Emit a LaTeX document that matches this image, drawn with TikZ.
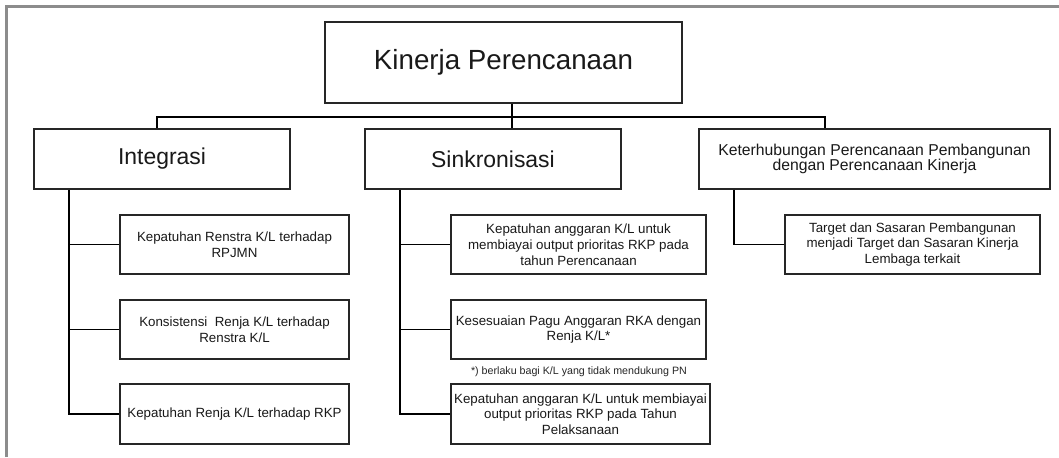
\documentclass[tikz,border=0pt]{standalone}
\usepackage{fontspec}
\setmainfont{Liberation Sans}
\begin{document}
\begin{tikzpicture}[x=0.75pt,y=-0.75pt,
  box/.style={draw=black!85,line width=0.9pt,fill=white,rectangle,inner sep=1pt,
    align=center,text=black!90},
  head/.style={box,font=\fontsize{17.2pt}{20pt}\selectfont,minimum width=192pt,minimum height=45pt},
  leaf/.style={box,font=\fontsize{10pt}{11.8pt}\selectfont,minimum height=44.25pt},
  conn/.style={draw=black,line width=1.3pt},
  frameline/.style={draw=black!45,line width=1.6pt}]
\useasboundingbox (0,0) rectangle (1059,457);
\fill[white] (0,0) rectangle (1059,457);
% outer frame (left and top edges only)
\draw[frameline] (6.5,457) -- (6.5,6.5) -- (1059,6.5);

% root
\node[box,font=\fontsize{20.8pt}{24pt}\selectfont,minimum width=267.75pt,minimum height=60.75pt]
  (root) at (503.5,62.5) {Kinerja Perencanaan};

% second level
\node[head] (integ) at (162,159) {Integrasi};
\node[head] (sink) at (493,159) {Sinkronisasi};
\node[box,font=\fontsize{11.8pt}{11.8pt}\selectfont,minimum width=263.25pt,minimum height=45pt]
  (ket) at (874.5,159) {Keterhubungan Perencanaan Pembangunan\\dengan Perencanaan Kinerja};

% leaves under Integrasi
\node[leaf,minimum width=171.75pt] (i1) at (234.5,244.5) {Kepatuhan Renstra K/L terhadap\\RPJMN};
\node[leaf,minimum width=171.75pt] (i2) at (234.5,329.5) {Konsistensi\ \ Renja K/L terhadap\\Renstra K/L};
\node[leaf,minimum width=171.75pt,minimum height=45pt] (i3) at (234.5,414) {Kepatuhan Renja K/L terhadap RKP};

% leaves under Sinkronisasi
\node[leaf,minimum width=191.25pt] (s1) at (578.5,244.5) {Kepatuhan anggaran K/L untuk\\membiayai output prioritas RKP pada\\tahun Perencanaan};
\node[leaf,minimum width=191.25pt] (s2) at (578.5,329.5) {Kesesuaian Pagu Anggaran RKA dengan\\Renja K/L*};
\node[font=\fontsize{8pt}{9pt}\selectfont,text=black!85,inner sep=0pt] (note) at (579,372) {*) berlaku bagi K/L yang tidak mendukung PN};
\node[leaf,minimum width=194.25pt,minimum height=45pt] (s3) at (580.5,414) {Kepatuhan anggaran K/L untuk membiayai\\output prioritas RKP pada Tahun\\Pelaksanaan};

% leaf under Keterhubungan
\node[leaf,minimum width=191.25pt] (k1) at (912.5,244.5) {Target dan Sasaran Pembangunan\\menjadi Target dan Sasaran Kinerja\\Lembaga terkait};

% connector positions
\coordinate (bus) at (0,117);
\coordinate (idrop) at (157,0);
\coordinate (sdrop) at (512,0);
\coordinate (kdrop) at (825,0);
\coordinate (ispine) at (69,0);
\coordinate (sspine) at (400,0);
\coordinate (kspine) at (734,0);

% root to second level
\draw[conn] (integ.north -| idrop) |- (bus -| kdrop) -- (ket.north -| kdrop);
\draw[conn] (root.south -| sdrop) -- (sink.north -| sdrop);

% Integrasi branch
\draw[conn] (integ.south -| ispine) |- (i3.west);
\draw[conn] (ispine |- i1.west) -- (i1.west);
\draw[conn] (ispine |- i2.west) -- (i2.west);

% Sinkronisasi branch
\draw[conn] (sink.south -| sspine) |- (s3.west);
\draw[conn] (sspine |- s1.west) -- (s1.west);
\draw[conn] (sspine |- s2.west) -- (s2.west);

% Keterhubungan branch
\draw[conn] (ket.south -| kspine) |- (k1.west);
\end{tikzpicture}
\end{document}
